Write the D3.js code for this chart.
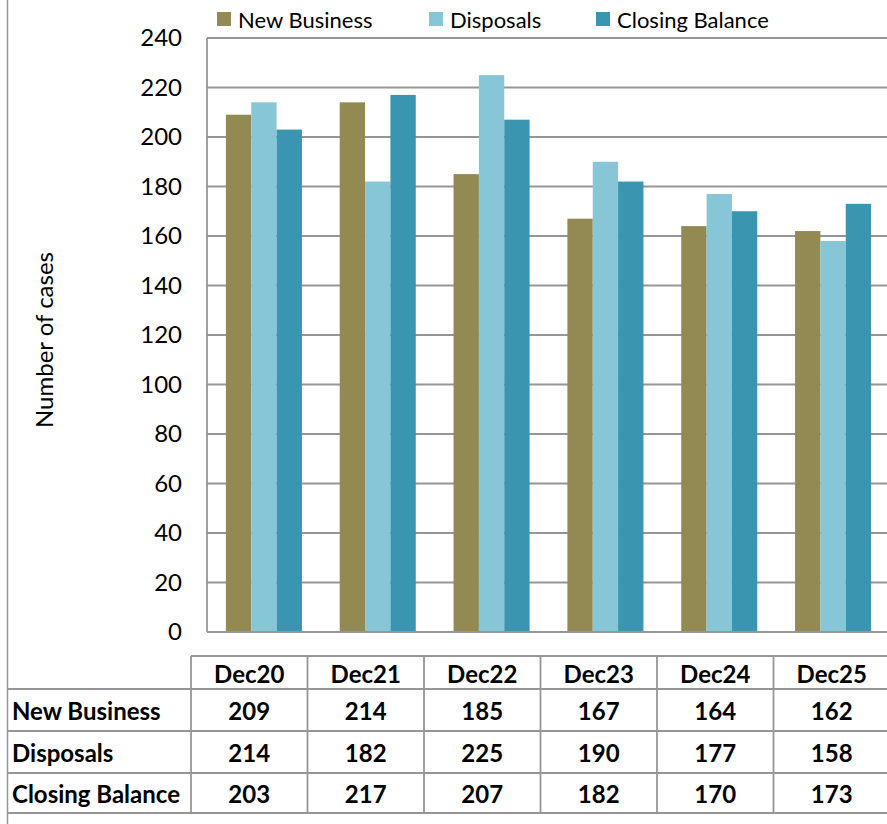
<!DOCTYPE html>
<html>
<head>
<meta charset="utf-8">
<script src="https://cdn.jsdelivr.net/npm/d3@7"></script>
<style>
html,body{margin:0;padding:0;background:#fff;}
svg{display:block;}
text{font-family:Lato,"Open Sans",sans-serif;fill:#000;}
</style>
</head>
<body>
<svg id="chart" width="887" height="824"></svg>
<script>
const categories = ["Dec20","Dec21","Dec22","Dec23","Dec24","Dec25"];
const seriesNames = ["New Business","Disposals","Closing Balance"];
const newBusiness = [209,214,185,167,164,162];
const disposals = [214,182,225,190,177,158];
const closingBalance = [203,217,207,182,170,173];
const yTicks = [0,20,40,60,80,100,120,140,160,180,200,220,240];
const colors = ["#938953","#87c6d7","#3a96b0"];
const seriesValues = [newBusiness, disposals, closingBalance];

const svg = d3.select("#chart");
const gridColor = "#969696";

// scales
const x = d3.scaleBand().domain(categories).range([207, 890]).paddingInner(0.332).paddingOuter(0.166);
const xs = d3.scaleBand().domain(seriesNames).range([0, x.bandwidth()]);
const y = d3.scaleLinear().domain([0, 240]).range([632, 38]);

// outer frame left line
svg.append("line").attr("x1",7.5).attr("x2",7.5).attr("y1",0).attr("y2",824)
  .attr("stroke",gridColor).attr("stroke-width",1.5);

// gridlines
svg.append("g").selectAll("line").data(yTicks.filter(d=>d>0)).join("line")
  .attr("x1",207).attr("x2",890)
  .attr("y1",d=>y(d)).attr("y2",d=>y(d))
  .attr("stroke",gridColor).attr("stroke-width",1.8);

// y axis
const yAxis = d3.axisLeft(y).tickValues(yTicks).tickSize(0).tickPadding(25);
const yg = svg.append("g").attr("transform","translate(207,0)").call(yAxis);
yg.select(".domain").remove();
yg.selectAll("text").style("font-family","Lato, sans-serif").style("font-size","24px").attr("fill","#000");
svg.append("line").attr("x1",207).attr("x2",207).attr("y1",y(240)).attr("y2",y(0))
  .attr("stroke",gridColor).attr("stroke-width",1.8);

// bars
const groups = svg.append("g").selectAll("g").data(categories).join("g")
  .attr("transform",d=>`translate(${x(d)},0)`);
groups.selectAll("rect").data((c,i)=>seriesNames.map((s,j)=>({s, v:seriesValues[j][i], j}))).join("rect")
  .attr("x",d=>xs(d.s)).attr("width",xs.bandwidth())
  .attr("y",d=>y(d.v)).attr("height",d=>y(0)-y(d.v))
  .attr("fill",d=>colors[d.j]);

// x axis baseline
svg.append("line").attr("x1",207).attr("x2",890).attr("y1",y(0)).attr("y2",y(0))
  .attr("stroke",gridColor).attr("stroke-width",1.8);

// y title
svg.append("text").attr("transform","translate(43,340) rotate(-90)")
  .attr("text-anchor","middle").attr("dominant-baseline","central")
  .style("font-size","24px").text("Number of cases");

// legend
const legendX = [217, 429, 596];
const leg = svg.append("g").selectAll("g").data(seriesNames).join("g")
  .attr("transform",(d,i)=>`translate(${legendX[i]},12)`);
leg.append("rect").attr("width",14).attr("height",14).attr("fill",(d,i)=>colors[i]);
leg.append("text").attr("x",21).attr("y",7).attr("dominant-baseline","central")
  .style("font-size","22px").text(d=>d);

// data table
const tx = d3.scaleBand().domain(categories).range([191, 890]);
const rowTops = [656, 689, 731, 773];
const rowBottom = 813;
const tg = svg.append("g");
const lineAttr = sel => sel.attr("stroke",gridColor).attr("stroke-width",1.8);
// horizontal lines
tg.append("line").attr("x1",191).attr("x2",890).attr("y1",rowTops[0]).attr("y2",rowTops[0]).call(lineAttr);
[rowTops[1],rowTops[2],rowTops[3],rowBottom].forEach(yy=>{
  tg.append("line").attr("x1",7).attr("x2",890).attr("y1",yy).attr("y2",yy).call(lineAttr);
});
// vertical lines
categories.forEach(c=>{
  tg.append("line").attr("x1",tx(c)).attr("x2",tx(c)).attr("y1",rowTops[0]).attr("y2",rowBottom).call(lineAttr);
});
// header text
tg.selectAll("text.hdr").data(categories).join("text").attr("class","hdr")
  .attr("x",d=>tx(d)+tx.bandwidth()/2).attr("y",(rowTops[0]+rowTops[1])/2+1)
  .attr("text-anchor","middle").attr("dominant-baseline","central")
  .style("font-size","24px").style("font-weight","bold").text(d=>d);
// rows
seriesNames.forEach((s,j)=>{
  const top = rowTops[j+1], bot = j<2 ? rowTops[j+2] : rowBottom;
  const cy = (top+bot)/2;
  tg.append("text").attr("x",12).attr("y",cy).attr("dominant-baseline","central")
    .style("font-size","24px").style("font-weight","bold").text(s);
  tg.selectAll("text.v"+j).data(seriesValues[j]).join("text").attr("class","v"+j)
    .attr("x",(d,i)=>tx(categories[i])+tx.bandwidth()/2).attr("y",cy)
    .attr("text-anchor","middle").attr("dominant-baseline","central")
    .style("font-size","24px").style("font-weight","bold").text(d=>d);
});
</script>
</body>
</html>
